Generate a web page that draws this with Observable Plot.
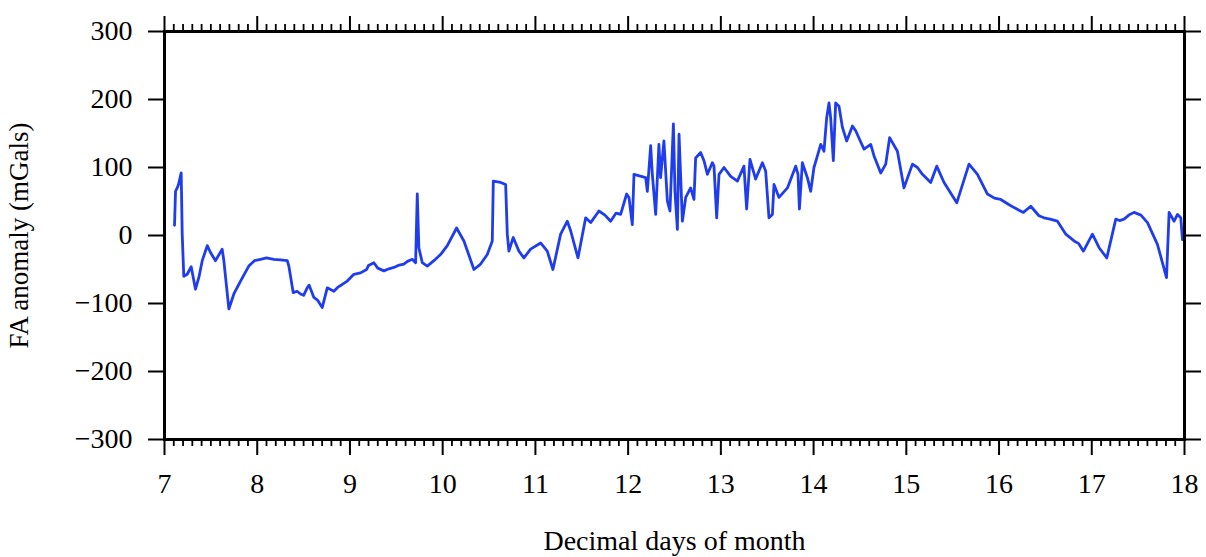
<!DOCTYPE html>
<html>
<head>
<meta charset="utf-8">
<script src="https://cdn.jsdelivr.net/npm/d3@7"></script>
<script src="https://cdn.jsdelivr.net/npm/@observablehq/plot@0.6"></script>
<style>
  html, body { margin: 0; padding: 0; background: #fff; }
  #chart svg, #chart svg text { font-family: "Liberation Serif", "Times New Roman", Times, serif !important; }
</style>
</head>
<body>
<div id="chart"></div>
<script>
// Decimal day of month
const days = [
  7.108, 7.119, 7.137, 7.151, 7.18, 7.191, 7.208, 7.245, 7.288, 7.334,
  7.37, 7.407, 7.461, 7.496, 7.55, 7.622, 7.64, 7.694, 7.748, 7.82,
  7.909, 7.97, 8.036, 8.1, 8.179, 8.25, 8.324, 8.341, 8.388, 8.43,
  8.467, 8.5, 8.539, 8.56, 8.611, 8.65, 8.701,
  8.755, 8.826, 8.87, 8.917, 8.971, 9.042, 9.114, 9.18, 9.2, 9.258, 9.3,
  9.366, 9.42, 9.474, 9.52, 9.581, 9.62,
  9.672, 9.708, 9.726, 9.743, 9.78, 9.834, 9.905, 9.977, 10.05, 10.15,
  10.229, 10.337, 10.409, 10.481, 10.535, 10.546, 10.625, 10.679, 10.697, 10.714,
  10.761, 10.822, 10.876, 10.948, 11.056, 11.128, 11.189, 11.272, 11.344, 11.38,
  11.459, 11.542, 11.596, 11.685, 11.75, 11.811, 11.87, 11.919, 11.984, 12.009, 12.045, 12.063,
  12.189, 12.207, 12.243, 12.261, 12.297, 12.332, 12.35, 12.386, 12.423, 12.451,
  12.488, 12.505, 12.531, 12.549, 12.585, 12.621, 12.674, 12.71, 12.728, 12.782,
  12.818, 12.855, 12.908, 12.926, 12.955, 12.98, 13.034, 13.106, 13.178, 13.249,
  13.278, 13.314, 13.375, 13.448, 13.483, 13.519, 13.556, 13.573, 13.627, 13.718,
  13.807, 13.832, 13.847, 13.879, 13.933, 13.969, 14.004, 14.041, 14.077, 14.112,
  14.141, 14.166, 14.184, 14.213, 14.238, 14.274, 14.311, 14.357, 14.419, 14.454,
  14.5, 14.544, 14.616, 14.652, 14.724, 14.778, 14.82, 14.904, 14.975, 15.066, 15.12, 15.174,
  15.263, 15.328, 15.407, 15.544, 15.676, 15.767, 15.875, 15.95, 16.018, 16.1, 16.162, 16.262,
  16.342, 16.43, 16.485, 16.55, 16.63, 16.72, 16.809, 16.86, 16.91, 16.96, 17.007, 17.079, 17.162,
  17.259, 17.3, 17.348, 17.4, 17.456, 17.53, 17.601, 17.708, 17.806, 17.834, 17.888, 17.925, 17.96,
  17.978
];
// Free-air anomaly (mGals)
const anomaly = [
  15, 65, 70, 75, 92, 2, -60, -57, -46, -79,
  -62, -37, -15, -25, -37, -20, -37, -108, -86, -67,
  -45, -37, -35, -33, -35, -36, -37, -45, -84, -82,
  -86, -88, -77, -73, -91, -95, -106,
  -77, -82, -76, -72, -67, -57, -55, -50, -44, -40, -48,
  -52, -49, -47, -44, -42, -38,
  -35, -40, 61, -18, -40, -45, -37, -28, -15, 11,
  -8, -50, -42, -28, -8, 80, 78, 75, 2, -23,
  -3, -23, -33, -20, -11, -23, -50, 2, 21, 7,
  -33, 26, 19, 36, 30, 21, 33, 31, 61, 56, 16, 90,
  85, 65, 132, 90, 31, 134, 85, 139, 51, 36,
  164, 65, 9, 149, 21, 56, 70, 53, 114, 122,
  110, 90, 107, 102, 26, 90, 100, 87, 80, 102,
  39, 112, 83, 107, 95, 26, 31, 75, 56, 70,
  102, 90, 39, 107, 85, 65, 100, 117, 134, 124,
  173, 195, 173, 110, 195, 190, 159, 139, 161, 154,
  140, 127, 134, 117, 92, 105, 144, 124, 70, 105, 100, 90,
  78, 102, 78, 48, 105, 90, 61, 55, 53, 46, 41, 34,
  43, 29, 26, 24, 21, 2, -8, -12, -23, -10, 2, -18, -33,
  24, 22, 24, 30, 34, 30, 19, -13, -62, 34, 21, 31, 26,
  -6
];
const xTicks = [7, 8, 9, 10, 11, 12, 13, 14, 15, 16, 17, 18];
const xMinorTicks = d3.range(71, 180).filter(d => d % 10 !== 0).map(d => d / 10);
const yTicks = [-300, -200, -100, 0, 100, 200, 300];

const data = days.map((d, i) => ({day: d, fa: anomaly[i]}));
const blank = () => "";
const serif = "Liberation Serif, Times New Roman, Times, serif";

const chart = Plot.plot({
  width: 1206,
  height: 557,
  marginLeft: 164,
  marginRight: 22,
  marginTop: 31,
  marginBottom: 118,
  style: {
    fontFamily: serif,
    fontSize: "28px",
    color: "#000",
    background: "#fff",
    overflow: "visible"
  },
  x: {domain: [7, 18]},
  y: {domain: [-300, 300]},
  marks: [
    Plot.line(data, {x: "day", y: "fa", stroke: "#1f3ded", strokeWidth: 2.8}),
    // minor ticks
    Plot.axisX(xMinorTicks, {anchor: "bottom", tickSize: 7, strokeWidth: 1.8, tickFormat: blank, label: null}),
    Plot.axisX(xMinorTicks, {anchor: "top", tickSize: 8, strokeWidth: 1.8, tickFormat: blank, label: null}),
    // major ticks
    Plot.axisX(xTicks, {
      anchor: "bottom", tickSize: 16, tickPadding: 18, strokeWidth: 2,
      fontFamily: serif, fontSize: 28,
      tickFormat: d => String(d),
      label: "Decimal days of month", labelAnchor: "center", labelArrow: "none", labelOffset: 110
    }),
    Plot.axisX(xTicks, {anchor: "top", tickSize: 16, strokeWidth: 2, tickFormat: blank, label: null}),
    Plot.axisY(yTicks, {
      anchor: "left", tickSize: 16, tickPadding: 16, strokeWidth: 2,
      fontFamily: serif, fontSize: 28, label: null
    }),
    Plot.axisY(yTicks, {
      anchor: "left", tickSize: 0, tickFormat: blank,
      fontFamily: serif, fontSize: 27,
      label: "FA anomaly (mGals)", labelAnchor: "center", labelArrow: "none", labelOffset: 156
    }),
    Plot.axisY(yTicks, {anchor: "right", tickSize: 16, strokeWidth: 2, tickFormat: blank, label: null}),
    Plot.frame({stroke: "#000", strokeWidth: 3})
  ]
});
document.getElementById("chart").appendChild(chart);
</script>
</body>
</html>
